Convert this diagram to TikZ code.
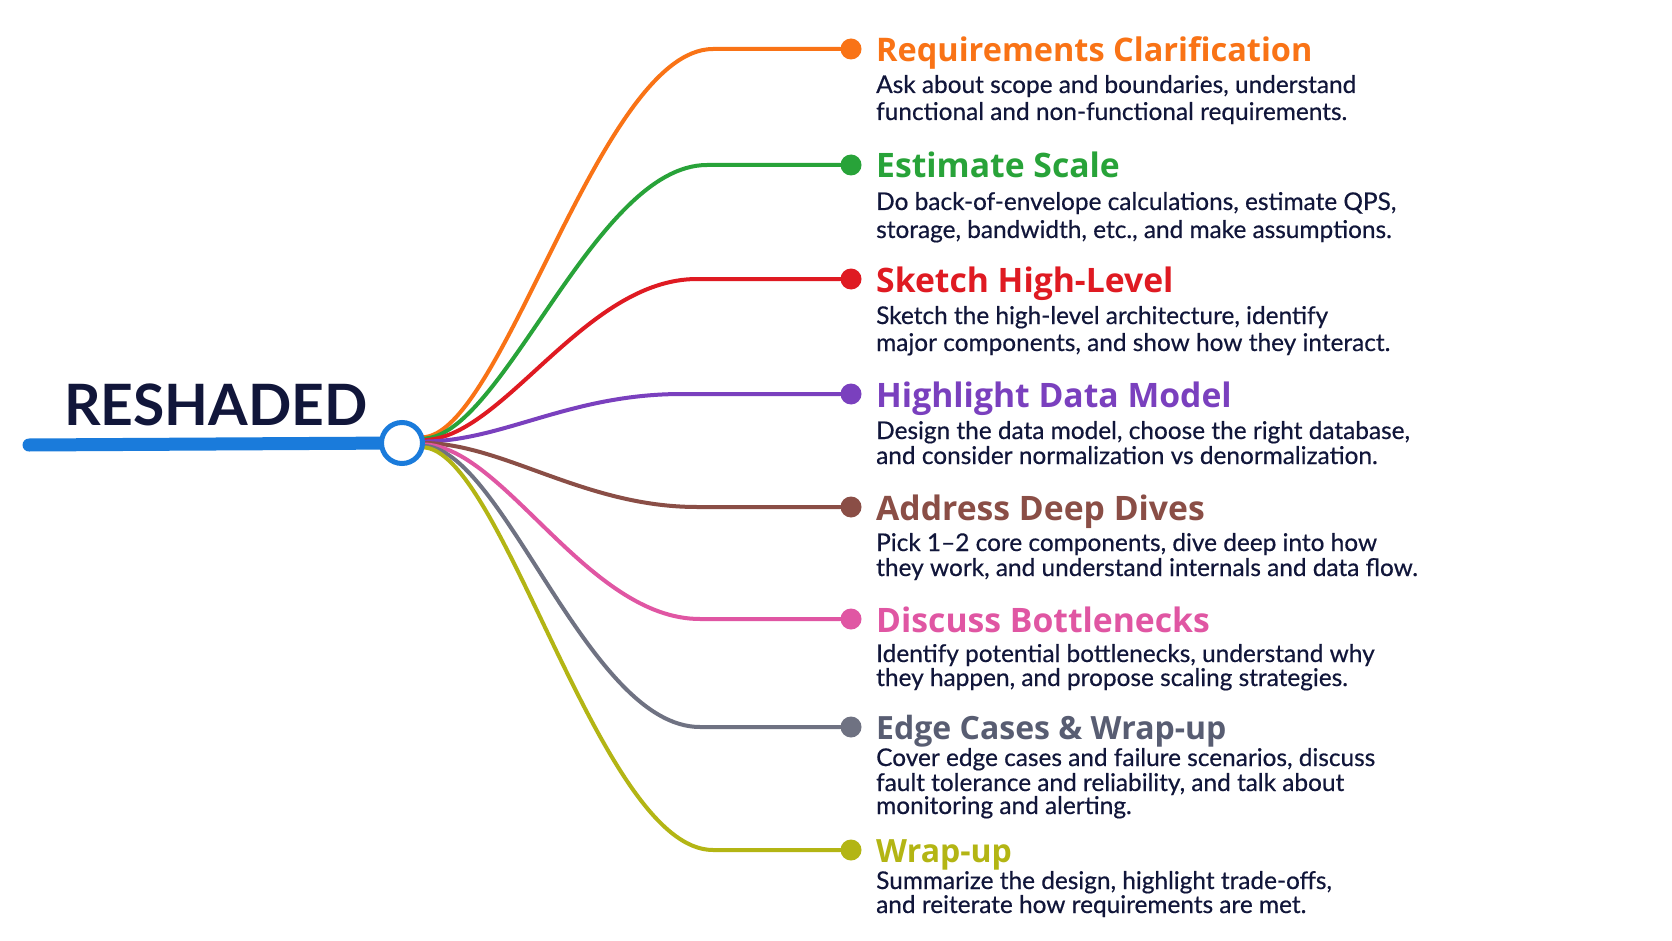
\documentclass[tikz,border=0pt]{standalone}
\usepackage{fontspec}
\setmainfont{Lato}
\newfontfamily\headfont{Open Sans}
\newfontfamily\bodyfont[FakeBold=0.5]{Lato}
\definecolor{cblue}{HTML}{1A7BDB}
\definecolor{cnavy}{HTML}{11163A}
\definecolor{corange}{HTML}{F97316}
\definecolor{cgreen}{HTML}{28A339}
\definecolor{cred}{HTML}{DF1A22}
\definecolor{cpurple}{HTML}{7A40BE}
\definecolor{cbrown}{HTML}{8A4E46}
\definecolor{cpink}{HTML}{E056A3}
\definecolor{cgray}{HTML}{6F7282}
\definecolor{cgrayt}{HTML}{585D72}
\definecolor{colive}{HTML}{B3B514}
\tikzset{
  branch/.style={line width=4pt, line cap=round},
  dotnode/.style={circle, inner sep=0pt, minimum size=21pt},
  headtxt/.style={anchor=base west, inner sep=0pt, font=\headfont\bfseries\fontsize{33.7}{33.7}\selectfont},
  headsmall/.style={headtxt, font=\headfont\bfseries\fontsize{32}{32}\selectfont},
  bodytxt/.style={anchor=base west, inner sep=0pt, text=cnavy, font=\bodyfont\fontsize{24.4}{24.4}\selectfont},
}
\begin{document}
\begin{tikzpicture}[x=1pt,y=-1pt]
\useasboundingbox[fill=white] (0,0) rectangle (1672,941);
% title
\node[anchor=base west, inner sep=0pt, text=cnavy, font=\bfseries\fontsize{57}{57}\selectfont] (title) at (64,425) {RESHADED};
% dots
\node[dotnode, fill=corange] (d1) at (851,49) {};
\node[dotnode, fill=cgreen]  (d2) at (851,165) {};
\node[dotnode, fill=cred]    (d3) at (851,279) {};
\node[dotnode, fill=cpurple] (d4) at (851,394) {};
\node[dotnode, fill=cbrown]  (d5) at (851,507) {};
\node[dotnode, fill=cpink]   (d6) at (851,619) {};
\node[dotnode, fill=cgray]   (d7) at (851,727) {};
\node[dotnode, fill=colive]  (d8) at (851,850) {};
% curve ends
\coordinate (e1) at (713,49);
\coordinate (e2) at (707,165);
\coordinate (e3) at (697,279);
\coordinate (e4) at (682,394);
\coordinate (e5) at (697,507);
\coordinate (e6) at (700,619);
\coordinate (e7) at (700,727);
\coordinate (e8) at (713,850);
\coordinate (bstart) at (29,445);
% hub placeholder for anchors
\node[circle, minimum size=41pt, inner sep=0pt] (hubc) at (402,443) {};
% branches
\draw[branch, corange] (hubc.16) .. controls +(80,0) and +(-113,0) .. (e1) -- (d1);
\draw[branch, cgreen]  (hubc.12) .. controls +(80,0) and +(-113,0) .. (e2) -- (d2);
\draw[branch, cred]    (hubc.8) .. controls +(80,0) and +(-113,0) .. (e3) -- (d3);
\draw[branch, cpurple] (hubc.4) .. controls +(80,0) and +(-113,0) .. (e4) -- (d4);
\draw[branch, cbrown]  (hubc.0) .. controls +(80,0) and +(-113,0) .. (e5) -- (d5);
\draw[branch, cpink]   (hubc.-4) .. controls +(80,0) and +(-113,0) .. (e6) -- (d6);
\draw[branch, cgray]   (hubc.-8) .. controls +(80,0) and +(-113,0) .. (e7) -- (d7);
\draw[branch, colive]  (hubc.-12) .. controls +(80,0) and +(-113,0) .. (e8) -- (d8);
% main blue line and hub
\draw[line width=13pt, line cap=round, cblue] (bstart) -- (hubc);
\node[circle, draw=cblue, line width=5pt, fill=white, minimum size=41pt, inner sep=0pt] (hub) at (hubc) {};
% headings
\node[headtxt, text=corange, font=\headfont\bfseries\fontsize{32.5}{32.5}\selectfont] (h1) at (876,62) {Requirements Clarification};
\node[headtxt, text=cgreen]  (h2) at (876,178) {Estimate Scale};
\node[headtxt, text=cred]    (h3) at (876,292) {Sketch High-Level};
\node[headtxt, text=cpurple] (h4) at (876,407) {Highlight Data Model};
\node[headtxt, text=cbrown]  (h5) at (876,520) {Address Deep Dives};
\node[headtxt, text=cpink]   (h6) at (876,632) {Discuss Bottlenecks};
\node[headsmall, text=cgrayt]  (h7) at (876,739) {Edge Cases \& Wrap-up};
\node[headsmall, text=colive]  (h8) at (876,862) {Wrap-up};
% body lines
\node[bodytxt] (b1a) at (876,93) {Ask about scope and boundaries, understand};
\node[bodytxt] (b1b) at (876,120) {functional and non-functional requirements.};
\node[bodytxt] (b2a) at (876,210) {Do back-of-envelope calculations, estimate QPS,};
\node[bodytxt] (b2b) at (876,238) {storage, bandwidth, etc., and make assumptions.};
\node[bodytxt] (b3a) at (876,324) {Sketch the high-level architecture, identify};
\node[bodytxt] (b3b) at (876,351) {major components, and show how they interact.};
\node[bodytxt] (b4a) at (876,439) {Design the data model, choose the right database,};
\node[bodytxt] (b4b) at (876,464) {and consider normalization vs denormalization.};
\node[bodytxt] (b5a) at (876,551) {Pick 1–2 core components, dive deep into how};
\node[bodytxt] (b5b) at (876,576) {they work, and understand internals and data flow.};
\node[bodytxt] (b6a) at (876,662) {Identify potential bottlenecks, understand why};
\node[bodytxt] (b6b) at (876,686) {they happen, and propose scaling strategies.};
\node[bodytxt] (b7a) at (876,766) {Cover edge cases and failure scenarios, discuss};
\node[bodytxt] (b7b) at (876,791) {fault tolerance and reliability, and talk about};
\node[bodytxt] (b7c) at (876,814) {monitoring and alerting.};
\node[bodytxt] (b8a) at (876,889) {Summarize the design, highlight trade-offs,};
\node[bodytxt] (b8b) at (876,913) {and reiterate how requirements are met.};
\end{tikzpicture}
\end{document}
